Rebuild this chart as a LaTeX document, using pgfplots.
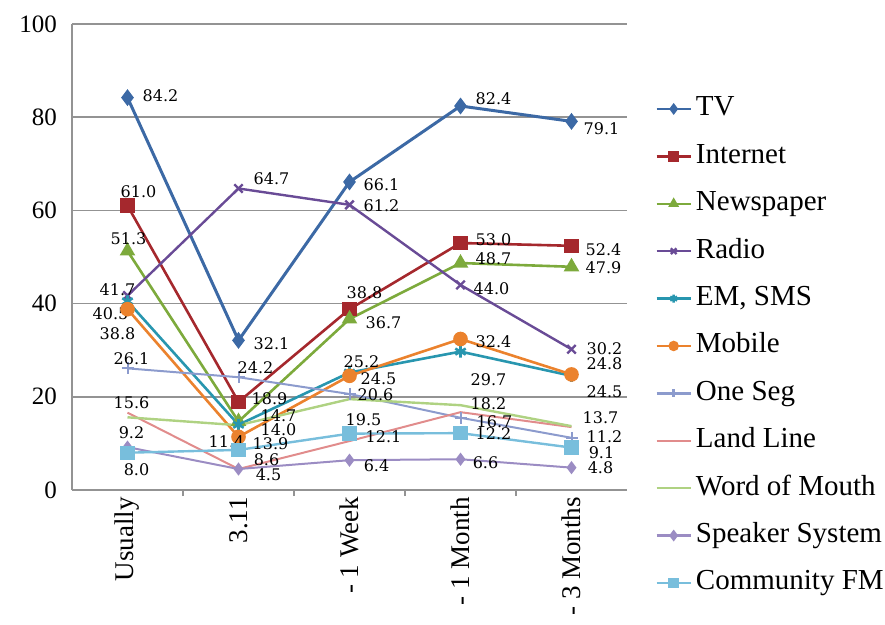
\documentclass[border=0pt]{standalone}
\usepackage{pgfplots}
\pgfplotsset{compat=1.18}
\usepackage{fontspec}
\setmainfont{Liberation Serif}
\newfontfamily\labfont{DejaVu Serif}
\definecolor{cTV}{RGB}{60,105,165}
\definecolor{cNet}{RGB}{165,40,45}
\definecolor{cNews}{RGB}{125,170,60}
\definecolor{cRadio}{RGB}{105,75,150}
\definecolor{cEM}{RGB}{40,150,175}
\definecolor{cMob}{RGB}{235,130,45}
\definecolor{cSeg}{RGB}{140,155,205}
\definecolor{cLand}{RGB}{225,140,140}
\definecolor{cWom}{RGB}{175,210,130}
\definecolor{cSpk}{RGB}{155,140,195}
\definecolor{cCfm}{RGB}{120,190,220}
\begin{document}
\begin{tikzpicture}
\begin{axis}[
 scale only axis, width=277.5pt, height=233pt,
 xmin=-0.5, xmax=4.5, ymin=0, ymax=100,
 clip=false,
 axis lines*=left, axis line style={draw=gray!85, line width=0.8pt},
 xtick={0,...,4}, xticklabels={Usually,3.11,- 1 Week,- 1 Month,- 3 Months},
 x tick label style={rotate=90, anchor=east, font=\fontsize{13.5}{15}\selectfont},
 major tick length=0pt,
 minor xtick={0.5,1.5,2.5,3.5}, minor tick length=3pt, tick align=outside,
 minor tick style={gray!85, line width=0.8pt},
 ytick={0,20,...,100}, ymajorgrids, grid style={gray!85, line width=0.8pt},
 y tick label style={font=\fontsize{12.5}{14}\selectfont, xshift=-4pt},
 /pgf/number format/assume math mode=true,
 point meta=explicit symbolic,
 nodes near coords,
 visualization depends on={value \thisrow{dx} \as \dx},
 visualization depends on={value \thisrow{dy} \as \dy},
 every node near coord/.append style={anchor=center, text=black, inner sep=0pt,
   font=\labfont\fontsize{8}{9}\selectfont, xshift=\dx*0.5pt, yshift=\dy*0.5pt},
 legend style={at={(1,0.855)}, anchor=north west, xshift=14pt, draw=none, fill=none,
   font=\fontsize{14.5}{16}\selectfont, row sep=6.7pt, inner sep=0pt,
   nodes={text height=10pt, text depth=3pt, inner sep=2pt}},
 legend image post style={mark size=2pt, line width=1.2pt},
 legend cell align=left,
]
\coordinate (bl) at (rel axis cs:0,0);
\coordinate (tr) at (rel axis cs:1,1);

\addplot[color=cTV, line width=1.5pt, mark=diamond*, mark size=3pt, mark options={solid}] table[x=x,y=y,meta=lab]{
x y lab dx dy
0 84.2 84.2 33 2
1 32.1 32.1 33 -3
2 66.1 66.1 32 -3
3 82.4 82.4 33 7
4 79.1 79.1 30 -7
};
\addlegendentry{TV}

\addplot[color=cNet, line width=1.3pt, mark=square*, mark size=3pt] table[x=x,y=y,meta=lab]{
x y lab dx dy
0 61.0 61.0 11 14
1 18.9 18.9 31 3
2 38.8 38.8 15 17
3 53.0 53.0 33 3
4 52.4 52.4 32 -4
};
\addlegendentry{Internet}

\addplot[color=cNews, line width=1.3pt, mark=triangle*, mark size=3.2pt] table[x=x,y=y,meta=lab]{
x y lab dx dy
0 51.3 51.3 1 12
1 14.7 14.7 40 6
2 36.7 36.7 34 -4
3 48.7 48.7 33 4
4 47.9 47.9 32 -1
};
\addlegendentry{Newspaper}

\addplot[color=cRadio, line width=1.2pt, mark=x, mark size=3pt] table[x=x,y=y,meta=lab]{
x y lab dx dy
0 41.7 41.7 -10 6
1 64.7 64.7 33 10
2 61.2 61.2 32 -1
3 44.0 44.0 31 -4
4 30.2 30.2 33 1
};
\addlegendentry{Radio}

\addplot[color=cEM, line width=1.3pt, mark=asterisk, mark size=3pt] table[x=x,y=y,meta=lab]{
x y lab dx dy
0 40.5 40.5 -17 -12
1 14.0 14.0 40 -5
2 25.2 25.2 12 11
3 29.7 29.7 28 -28
4 24.5 24.5 33 -16
};
\addlegendentry{EM, SMS}

\addplot[color=cMob, line width=1.3pt, mark=*, mark size=3pt] table[x=x,y=y,meta=lab]{
x y lab dx dy
0 38.8 38.8 -10 -24
1 11.4 11.4 -12 -5
2 24.5 24.5 29 -3
3 32.4 32.4 33 -3
4 24.8 24.8 33 11
};
\addlegendentry{Mobile}

\addplot[color=cSeg, line width=1pt, mark=+, mark size=3pt] table[x=x,y=y,meta=lab]{
x y lab dx dy
0 26.1 26.1 4 10
1 24.2 24.2 17 10
2 20.6 20.6 26 -1
3 15.5 {} 0 0
4 11.2 11.2 33 1
};
\addlegendentry{One Seg}

\addplot[color=cLand, line width=1pt, mark=none] table[x=x,y=y,meta=lab]{
x y lab dx dy
0 16.6 {} 0 0
1 4.5 {} 0 0
2 10.5 {} 0 0
3 16.7 16.7 34 -9
4 13.5 {} 0 0
};
\addlegendentry{Land Line}

\addplot[color=cWom, line width=1.2pt, mark=none] table[x=x,y=y,meta=lab]{
x y lab dx dy
0 15.6 15.6 4 15
1 13.9 13.9 32 -18
2 19.5 19.5 14 -21
3 18.2 18.2 28 2
4 13.7 13.7 29 8
};
\addlegendentry{Word of Mouth}

\addplot[color=cSpk, line width=1pt, mark=diamond*, mark size=2.5pt] table[x=x,y=y,meta=lab]{
x y lab dx dy
0 9.2 9.2 4 14
1 4.5 4.5 30 -6
2 6.4 6.4 27 -5
3 6.6 6.6 25 -3
4 4.8 4.8 29 0
};
\addlegendentry{Speaker System}

\addplot[color=cCfm, line width=1.2pt, mark=square*, mark size=3pt] table[x=x,y=y,meta=lab]{
x y lab dx dy
0 8.0 8.0 9 -17
1 8.6 8.6 28 -10
2 12.1 12.1 34 -3
3 12.2 12.2 33 -1
4 9.1 9.1 30 -5
};
\addlegendentry{Community FM}
\end{axis}
\pgfresetboundingbox
\path[use as bounding box] ([xshift=-36pt,yshift=-67pt]bl) rectangle ([xshift=129pt,yshift=12pt]tr);
\end{tikzpicture}
\end{document}
